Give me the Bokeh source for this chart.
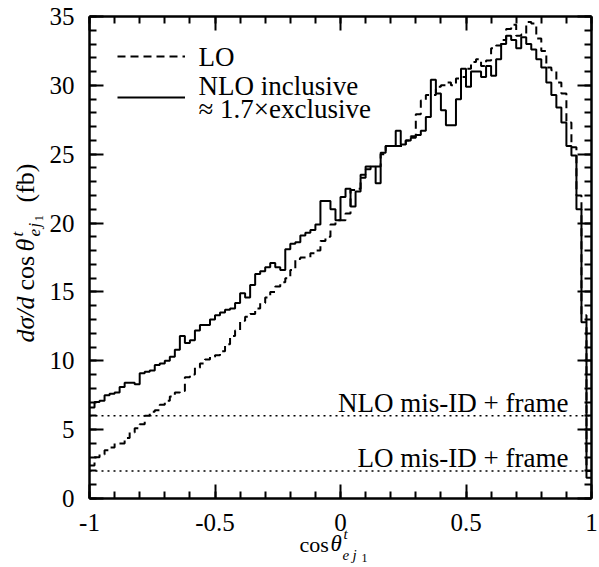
import numpy as np
from bokeh.plotting import figure
from bokeh.models import Range1d, LinearAxis, FixedTicker, Label, Legend, LegendItem
from bokeh.embed import file_html
from bokeh.resources import INLINE

# ---------------- data ----------------
bin_edges = np.round(np.linspace(-1.0, 1.0, 101), 2)

lo_vals = [2.4, 3.0, 3.2, 3.5, 3.7, 4.0, 4.0, 4.4, 4.8, 5.1,
           5.4, 6.0, 6.3, 6.4, 6.8, 7.1, 7.4, 7.7, 7.8, 8.8,
           9.0, 9.5, 9.8, 10.1, 10.3, 10.4, 10.7, 11.2, 11.8, 12.2,
           12.9, 13.2, 13.4, 13.8, 14.2, 14.6, 15.0, 15.4, 15.7, 16.0,
           16.6, 17.4, 17.5, 17.5, 17.8, 18.0, 18.7, 19.0, 19.9, 20.2,
           20.2, 20.7, 22.4, 22.5, 23.5, 23.9, 24.1, 24.1, 25.0, 25.6,
           25.6, 25.6, 25.6, 26.0, 26.3, 27.9, 28.9, 29.3, 29.3, 29.9,
           30.0, 30.2, 30.0, 30.5, 30.6, 31.2, 31.7, 31.9, 31.4, 31.8,
           32.7, 32.9, 33.3, 34.1, 34.4, 33.6, 33.7, 34.6, 34.5, 33.4,
           32.5, 31.3, 31.1, 30.2, 29.4, 27.3, 25.5, 22.0, 13.3, 2.0]

nlo_vals = [6.6, 7.0, 7.1, 7.5, 7.6, 7.7, 8.1, 8.4, 8.4, 8.3,
            9.1, 9.2, 9.3, 9.7, 9.8, 10.0, 10.3, 10.8, 11.8, 11.3,
            11.5, 12.2, 12.6, 12.6, 13.0, 13.3, 13.5, 13.7, 13.8, 14.2,
            14.9, 14.6, 15.5, 16.3, 16.5, 16.8, 17.1, 16.8, 16.6, 18.1,
            18.5, 18.6, 19.1, 19.3, 19.5, 19.9, 21.6, 21.6, 21.0, 20.2,
            21.9, 22.5, 21.2, 22.3, 23.3, 24.1, 24.1, 22.9, 25.1, 25.6,
            25.6, 26.7, 25.7, 26.0, 26.2, 26.4, 26.7, 27.7, 30.4, 29.4,
            28.2, 27.1, 27.1, 29.0, 31.2, 29.9, 31.0, 31.0, 30.6, 31.4,
            30.7, 31.9, 33.0, 33.6, 33.3, 32.7, 33.5, 33.0, 32.6, 31.9,
            31.3, 30.2, 29.3, 28.4, 27.3, 25.6, 24.9, 21.0, 12.8, 1.5]

misid_levels = [6.0, 2.0]
misid_labels = ["NLO mis-ID + frame", "LO mis-ID + frame"]

legend_labels = ["LO", "NLO inclusive", "\u2248 1.7\u00d7exclusive"]

x_ticks = [-1, -0.5, 0, 0.5, 1]
x_tick_labels = {-1: "-1", -0.5: "-0.5", 0: "0", 0.5: "0.5", 1: "1"}
y_ticks = [0, 5, 10, 15, 20, 25, 30, 35]

# ---------------- layout (pixels) ----------------
W, H = 599, 567
PX_L, PX_R, PY_T, PY_B = 89, 591, 16, 498     # plot box on the page
XMIN, XMAX, YMIN, YMAX = -1.0, 1.0, 0.0, 35.0

def X(px):
    return XMIN + (px - PX_L) * (XMAX - XMIN) / (PX_R - PX_L)

def Y(py):
    return YMIN + (PY_B - py) * (YMAX - YMIN) / (PY_B - PY_T)

FONT = "Liberation Serif"

# the frame covers the whole page; the box is drawn by four axes fixed at the box edges
p = figure(width=W, height=H, x_range=Range1d(X(0), X(W)), y_range=Range1d(Y(H), Y(0)),
           output_backend="svg", toolbar_location=None,
           min_border_left=0, min_border_right=0, min_border_top=0, min_border_bottom=0)
p.title.visible = False
p.grid.visible = False
p.outline_line_color = None
p.background_fill_color = "white"
p.border_fill_color = "white"

x_minor = [round(-1 + 0.1 * i, 1) for i in range(21)]
y_minor = list(range(0, 36))

def style_axis(ax, ticks, minor, loc, bounds, standoff=None, overrides=None):
    ax.fixed_location = loc
    ax.bounds = bounds
    ax.ticker = FixedTicker(ticks=ticks, minor_ticks=minor)
    ax.major_tick_in = 14
    ax.major_tick_out = 0
    ax.minor_tick_in = 7
    ax.minor_tick_out = 0
    ax.axis_line_width = 2.5
    ax.major_tick_line_width = 2
    ax.minor_tick_line_width = 2
    ax.axis_line_color = "black"
    ax.major_tick_line_color = "black"
    ax.minor_tick_line_color = "black"
    if standoff is not None:
        ax.major_label_text_font = FONT
        ax.major_label_text_font_size = "25px"
        ax.major_label_text_color = "black"
        ax.major_label_standoff = standoff
        if overrides:
            ax.major_label_overrides = overrides
    else:
        ax.major_label_overrides = {t: "" for t in ticks}
        ax.major_label_standoff = 0

style_axis(p.xaxis[0], x_ticks, x_minor, YMIN, (XMIN, XMAX), 15, x_tick_labels)
style_axis(p.yaxis[0], y_ticks, y_minor, XMIN, (YMIN, YMAX), 15)
top_ax = LinearAxis()
right_ax = LinearAxis()
style_axis(top_ax, x_ticks, x_minor, YMAX, (XMIN, XMAX))
style_axis(right_ax, y_ticks, y_minor, XMAX, (YMIN, YMAX))
p.add_layout(top_ax, "above")
p.add_layout(right_ax, "right")

# ---------------- histograms ----------------
xs = list(bin_edges)
r_lo = p.step(x=xs, y=lo_vals + [lo_vals[-1]], mode="after", line_color="black",
              line_width=2, line_dash="8 5")
r_nlo = p.step(x=xs, y=nlo_vals + [nlo_vals[-1]], mode="after", line_color="black",
               line_width=2)

# mis-ID levels (dotted across the whole box)
p.segment(x0=[XMIN] * len(misid_levels), x1=[XMAX] * len(misid_levels),
          y0=misid_levels, y1=misid_levels, line_color="black", line_width=1.5, line_dash="2 4")

SHIFT = 0.33  # empirical baseline correction of Label text, in em

def lab(px, py, text, size, style="normal", angle=0.0, align="left"):
    fs = float(size.replace("px", ""))
    if angle == 0.0:
        py = py - SHIFT * fs
    else:
        px = px - SHIFT * fs
    p.add_layout(Label(x=X(px), y=Y(py), text=text, text_font=FONT, text_font_size=size,
                       text_font_style=style, text_align=align, text_baseline="alphabetic",
                       angle=angle, text_color="black"))

for lvl, txt in zip(misid_levels, misid_labels):
    py_line = PY_B - (lvl - YMIN) * (PY_B - PY_T) / (YMAX - YMIN)
    lab(568, py_line - 4, txt, "27px", align="right")

# ---------------- legend (sample lines) + legend texts ----------------
legend = Legend(items=[LegendItem(label=" ", renderers=[r_lo]),
                       LegendItem(label=" ", renderers=[r_nlo])],
                location=(117, H - 107), border_line_alpha=0, background_fill_alpha=0,
                label_text_font_size="1px", label_height=20, label_width=4,
                glyph_width=68, glyph_height=20, label_standoff=0,
                margin=0, padding=0, spacing=21)
p.add_layout(legend)

lab(198, 65, legend_labels[0], "27px")
lab(198, 94, legend_labels[1], "27px")
lab(198, 117, legend_labels[2], "27px")

# ---------------- axis titles (composed) ----------------
# x title: cos theta^t_{e j_1}
lab(299, 551, "cos", "22px")
lab(330, 551, "\u03b8", "23px", "italic")
lab(343, 538, "t", "15px", "italic")
lab(342, 559, "e", "15px", "italic")
lab(352, 559, "j", "15px", "italic")
lab(361, 561, "1", "12px")

# y title: d sigma / d cos theta^t_{e j_1}  (fb), rotated
A = np.pi / 2
bx = 34
lab(bx, 342, "d\u03c3/d", "26px", "italic", A)
lab(bx, 290, "cos", "26px", "normal", A)
lab(bx, 251, "\u03b8", "26px", "italic", A)
lab(bx - 11, 236, "t", "17px", "italic", A)
lab(bx + 6, 236, "e", "17px", "italic", A)
lab(bx + 6, 227, "j", "17px", "italic", A)
lab(bx + 9, 221, "1", "13px", "normal", A)
lab(bx, 202, "(fb)", "26px", "normal", A)

open("out.html", "w").write(file_html(p, INLINE))
